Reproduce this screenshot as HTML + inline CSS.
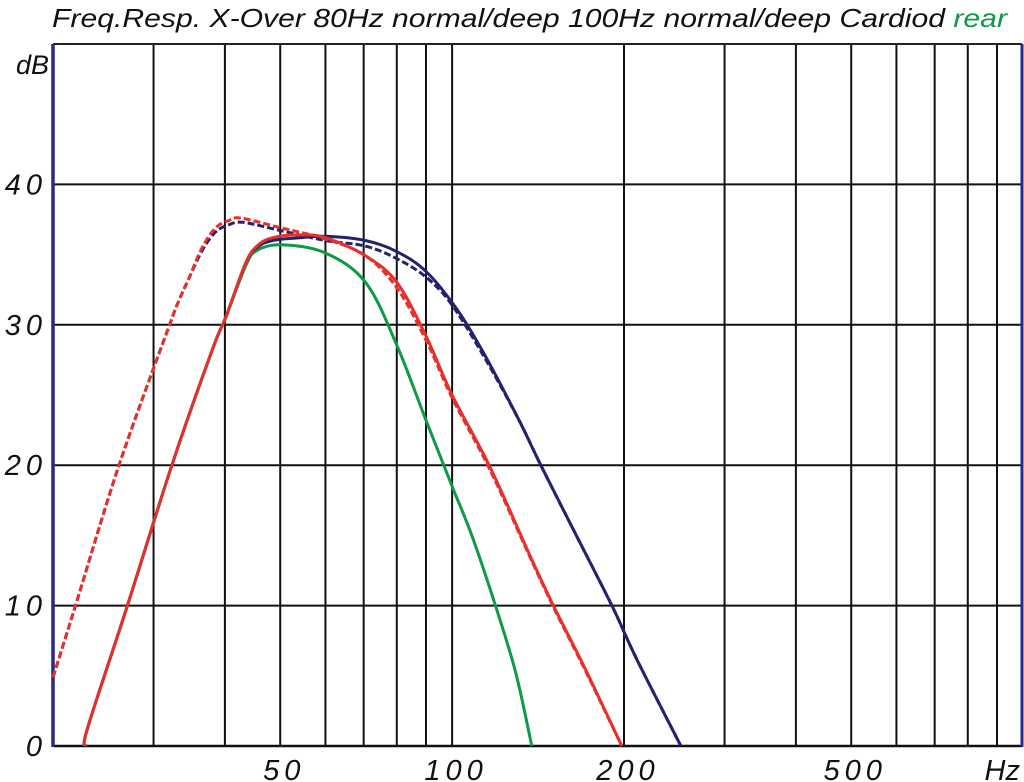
<!DOCTYPE html>
<html><head><meta charset="utf-8"><style>
html,body{margin:0;padding:0;background:#fff;}
svg{display:block;}
text{font-family:"Liberation Sans",sans-serif;font-style:italic;fill:#111;}
</style></head><body>
<svg id="chart" width="1024" height="782" viewBox="0 0 1024 782" xmlns="http://www.w3.org/2000/svg">
<text x="52" y="27" font-size="26" textLength="955" lengthAdjust="spacingAndGlyphs">Freq.Resp. X-Over 80Hz normal/deep 100Hz normal/deep Cardiod <tspan fill="#0e9a48" style="fill:#0e9a48">rear</tspan></text>
<g id="grid"></g>
<g id="series"></g>
<g id="labels"></g>
</svg>
<script>
const xGridFreqs=[30,40,50,60,70,80,90,100,200,300,400,500,600,700,800,900];
const yGridVals=[10,20,30,40];
const xTickVals=[50,100,200,500];
const xTickLabels=["50","100","200","500"];
const yTickVals=[0,10,20,30,40];
const yTickLabels=["0","10","20","30","40"];

const blueNormalF=[22.8,23.0,27.0,32.3,38.0,40.2,43.5,45.5,48.4,54.0,60.1,70.6,80.1,90.0,102,114.6,131,143.0,165,191,211,251.6];
const blueNormalDb=[0,1.3,10,20,28.2,30.6,34.4,35.5,36.0,36.2,36.3,36.0,35.2,33.8,31.1,27.7,23.2,20.0,15.0,9.9,6.1,0];
const redNormalF=[22.8,23.0,27.0,32.3,38.0,40.2,43.5,45.5,48.4,54.0,60.1,70.6,80.1,90.0,100,116.1,136.4,150.9,171.5,198.2];
const redNormalDb=[0,1.3,10,20,28.2,30.6,34.4,35.6,36.2,36.4,36.2,34.9,33.0,29.2,25.0,20.0,13.7,9.9,5.4,0];
const greenRearF=[22.8,23.0,27.0,32.3,38.0,40.2,43.5,45.5,50.2,60.1,70.6,80.1,90.0,100,108.5,119.3,129.3,137.9];
const greenRearDb=[0,1.3,10,20,28.2,30.6,34.2,35.3,35.7,35.1,33.0,28.5,23.2,18.5,14.9,9.9,5.2,0];
const blueDeepF=[20,21.9,26.1,32.0,33.3,34.5,36.5,38.5,40.5,43.0,50.2,60.1,70.6,80.1,90.0,100,114.6,131,143.0,165,191,211,251.6];
const blueDeepDb=[4.9,10.0,20.0,30.0,31.8,33.2,35.3,36.6,37.1,37.3,36.7,36.0,35.6,34.7,33.4,31.4,27.5,23.2,20.0,15.0,9.9,6.1,0];
const redDeepF=[20,21.9,26.1,32.0,33.3,34.5,36.5,38.5,40.5,42.7,50.2,60.1,70.6,80.1,90.0,100,116.1,136.4,150.9,171.5,198.2];
const redDeepDb=[4.9,10.0,20.0,30.0,31.8,33.2,35.5,36.9,37.4,37.6,36.9,36.1,34.9,32.6,28.9,24.8,19.8,13.6,9.8,5.3,0];

const X0=53,X1=1022,Y0=746,Y1=44;
const F0=20,F1=995.5,D0=0,D1=50;
function xs(f){return X0+(Math.log10(f)-Math.log10(F0))/(Math.log10(F1)-Math.log10(F0))*(X1-X0);}
function ys(d){return Y0-(d-D0)/(D1-D0)*(Y0-Y1);}
const NS="http://www.w3.org/2000/svg";
const gridG=document.getElementById('grid'),serG=document.getElementById('series'),labG=document.getElementById('labels');
function mk(tag,attrs,parent){const e=document.createElementNS(NS,tag);for(const k in attrs)e.setAttribute(k,attrs[k]);parent.appendChild(e);return e;}

xGridFreqs.forEach(f=>{const l=mk('line',{x1:xs(f),x2:xs(f),y1:Y1,y2:Y0,stroke:'#111','stroke-width':2},gridG);

});
yGridVals.forEach(v=>{const l=mk('line',{x1:X0,x2:X1,y1:ys(v),y2:ys(v),stroke:'#111','stroke-width':2},gridG);

});
const topBorder=mk('line',{x1:X0,x2:X1,y1:Y1,y2:Y1,stroke:'#222','stroke-width':2},gridG);


const bottomAxis=mk('line',{x1:X0,x2:X1,y1:Y0,y2:Y0,stroke:'#111','stroke-width':2.5},gridG);


const leftAxis=mk('line',{x1:X0,x2:X0,y1:Y1,y2:Y0+1,stroke:'#2a2a80','stroke-width':3.5},gridG);


const rightBorder=mk('line',{x1:X1,x2:X1,y1:Y1,y2:Y0+1,stroke:'#2a2a80','stroke-width':3},gridG);



function smoothPath(P){
  let d='M'+P[0][0].toFixed(1)+','+P[0][1].toFixed(1);
  for(let i=0;i<P.length-1;i++){
    const p0=P[Math.max(0,i-1)],p1=P[i],p2=P[i+1],p3=P[Math.min(P.length-1,i+2)];
    const c1x=p1[0]+(p2[0]-p0[0])/6,c1y=p1[1]+(p2[1]-p0[1])/6;
    const c2x=p2[0]-(p3[0]-p1[0])/6,c2y=p2[1]-(p3[1]-p1[1])/6;
    d+=' C'+c1x.toFixed(1)+','+c1y.toFixed(1)+' '+c2x.toFixed(1)+','+c2y.toFixed(1)+' '+p2[0].toFixed(1)+','+p2[1].toFixed(1);
  }
  return d;
}
function series(F,D,color,dash,name){
  const P=F.map((f,i)=>[xs(f),ys(D[i])]);
  const p=mk('path',{d:smoothPath(P),fill:'none',stroke:color,'stroke-width':3,'stroke-linejoin':'round'},serG);
  if(dash)p.setAttribute('stroke-dasharray','7 3');
  
  
}
series(greenRearF,greenRearDb,'#0e9a48',false,'rear-cardioid-line');
series(blueDeepF,blueDeepDb,'#23226e',true,'100hz-deep-line');
series(redDeepF,redDeepDb,'#e8302a',true,'80hz-deep-line');
series(blueNormalF,blueNormalDb,'#23226e',false,'100hz-normal-line');
series(redNormalF,redNormalDb,'#e8302a',false,'80hz-normal-line');

yTickVals.forEach((v,i)=>{const t=mk('text',{x:47,y:ys(v)+10,'font-size':29,'text-anchor':'end','letter-spacing':5},labG);t.textContent=yTickLabels[i];

});
xTickVals.forEach((v,i)=>{const t=mk('text',{x:xs(v)+4,y:780,'font-size':29,'text-anchor':'middle','letter-spacing':5},labG);t.textContent=xTickLabels[i];

});
const dbLabel=mk('text',{x:49,y:74,'font-size':27,'text-anchor':'end'},labG);dbLabel.textContent='dB';


const hzLabel=mk('text',{x:1020,y:780,'font-size':29,'text-anchor':'end'},labG);hzLabel.textContent='Hz';


</script>
</body></html>
